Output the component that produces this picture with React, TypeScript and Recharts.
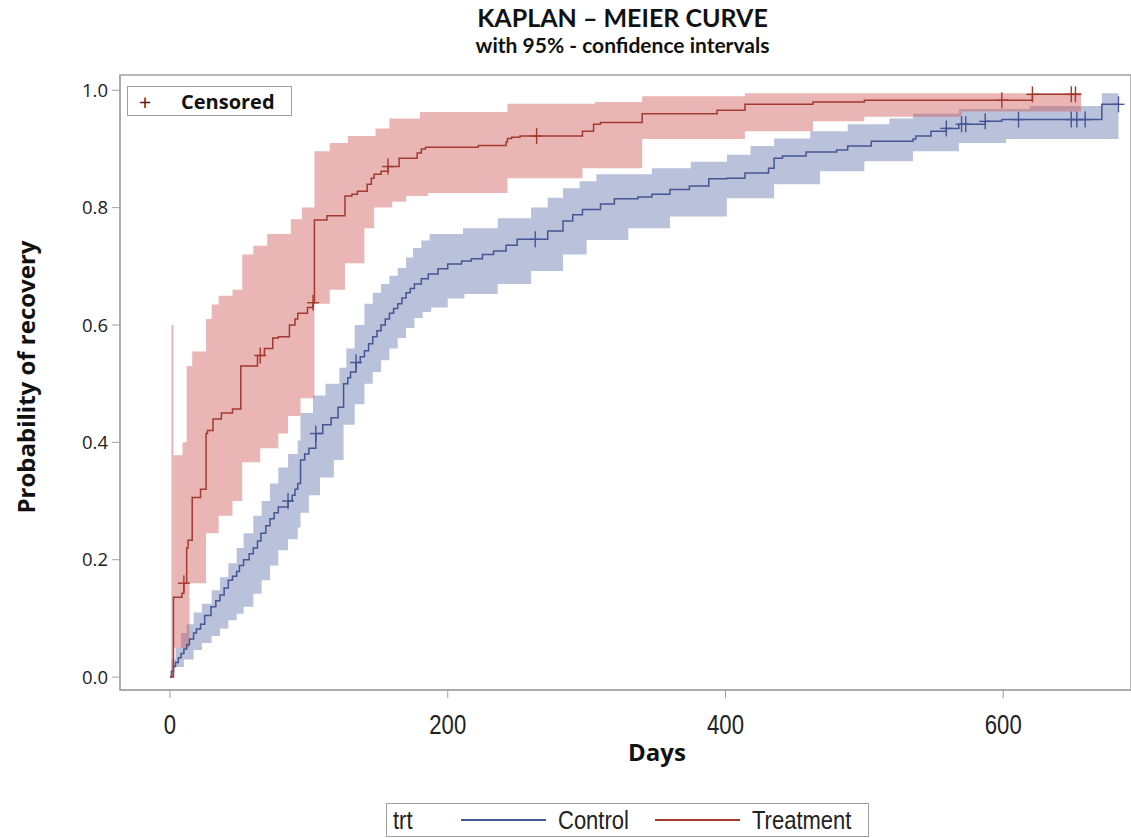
import React from "react";
import {
  ComposedChart,
  Area,
  Line,
  Scatter,
  XAxis,
  YAxis,
  ReferenceArea,
} from "recharts";

// Treatment: Kaplan-Meier estimate (days, probability of recovery)
const trtTime = [0, 2.5, 8.6, 10, 12, 13, 16, 22, 26, 27, 31, 37, 45, 51, 63, 68, 74, 78, 86, 90, 92, 99, 103, 104, 113, 126, 131, 135, 142, 145, 147, 152, 157, 165, 178, 181, 184, 222, 242, 243, 246, 252, 297, 305, 310, 340, 394, 414, 463, 500, 621, 656];
const trtSurv = [0, 0.136, 0.143, 0.16, 0.22, 0.233, 0.306, 0.32, 0.415, 0.42, 0.44, 0.45, 0.457, 0.53, 0.548, 0.56, 0.578, 0.58, 0.6, 0.61, 0.62, 0.63, 0.638, 0.779, 0.786, 0.82, 0.823, 0.828, 0.84, 0.85, 0.857, 0.862, 0.87, 0.884, 0.893, 0.9, 0.903, 0.906, 0.912, 0.918, 0.92, 0.922, 0.93, 0.942, 0.945, 0.96, 0.966, 0.976, 0.98, 0.983, 0.993, 0.993];
// Treatment: 95% confidence limits
const trtHiTime = [0, 1, 2.5, 9, 12, 16, 26, 30, 35, 45, 52, 60, 70, 87, 95, 104, 115, 128, 148, 158, 180, 243, 306, 340, 414, 656];
const trtHiVal = [0, 0.6, 0.378, 0.4, 0.53, 0.555, 0.61, 0.635, 0.65, 0.66, 0.72, 0.735, 0.755, 0.78, 0.8, 0.896, 0.91, 0.922, 0.935, 0.952, 0.963, 0.977, 0.98, 0.99, 0.995, 0.995];
const trtLoTime = [0, 2.5, 14, 26, 35, 45, 52, 65, 78, 85, 94, 104, 115, 126, 140, 147, 160, 170, 186, 243, 297, 340, 414, 463, 500, 570, 656];
const trtLoVal = [0, 0.05, 0.16, 0.245, 0.275, 0.3, 0.366, 0.39, 0.415, 0.445, 0.475, 0.636, 0.66, 0.705, 0.765, 0.8, 0.81, 0.82, 0.825, 0.85, 0.867, 0.917, 0.93, 0.947, 0.955, 0.964, 0.964];
const trtCensorTime = [10, 65, 103, 157, 264, 599, 621, 649, 652];
const trtCensorSurv = [0.16, 0.548, 0.638, 0.87, 0.922, 0.983, 0.993, 0.993, 0.993];

// Control: Kaplan-Meier estimate
const ctrlTime = [0, 1, 2.5, 4, 6, 8, 10, 12, 14, 17, 19, 22, 25, 29.5, 33, 36, 39, 42, 45, 48, 50, 53, 57, 60, 63, 65.5, 69, 72, 75, 78, 85, 88, 90, 92, 94, 97, 100, 105, 110, 116, 121, 125, 128, 130, 134, 137, 140, 143, 146, 149, 152, 155, 158, 161, 164, 167, 170, 173, 176, 181, 186, 193, 200, 210, 217, 225, 233, 242, 250, 272, 283, 290, 297, 310, 320, 337, 347, 360, 374, 388, 401, 414, 431, 435, 441, 458, 480, 488, 505, 535, 537, 548, 559, 568, 587, 599, 671, 683];
const ctrlSurv = [0, 0.01, 0.018, 0.025, 0.033, 0.04, 0.048, 0.055, 0.065, 0.075, 0.082, 0.09, 0.105, 0.12, 0.13, 0.14, 0.152, 0.165, 0.172, 0.18, 0.19, 0.2, 0.21, 0.22, 0.232, 0.245, 0.258, 0.27, 0.28, 0.29, 0.3, 0.31, 0.32, 0.33, 0.37, 0.38, 0.39, 0.415, 0.43, 0.442, 0.46, 0.5, 0.51, 0.52, 0.536, 0.546, 0.556, 0.568, 0.58, 0.59, 0.6, 0.61, 0.62, 0.628, 0.636, 0.646, 0.655, 0.662, 0.67, 0.679, 0.687, 0.696, 0.704, 0.709, 0.713, 0.72, 0.726, 0.736, 0.746, 0.76, 0.777, 0.788, 0.797, 0.806, 0.815, 0.818, 0.823, 0.831, 0.837, 0.849, 0.85, 0.859, 0.867, 0.884, 0.888, 0.895, 0.898, 0.905, 0.913, 0.917, 0.922, 0.93, 0.935, 0.942, 0.947, 0.95, 0.976, 0.976];
// Control: 95% confidence limits
const ctrlHiTime = [0, 1, 4, 8, 12, 17, 23, 30, 36, 42, 48, 53, 60, 66, 72, 78, 85, 92, 94, 103, 112, 122, 127, 133, 140, 146, 152, 158, 164, 170, 175, 181, 187, 211, 236, 260, 272, 283, 295, 307, 347, 375, 401, 418, 435, 461, 488, 518, 535, 568, 619, 671, 683];
const ctrlHiVal = [0, 0.03, 0.05, 0.075, 0.09, 0.11, 0.125, 0.148, 0.17, 0.194, 0.22, 0.245, 0.275, 0.3, 0.33, 0.357, 0.38, 0.403, 0.45, 0.48, 0.5, 0.527, 0.56, 0.6, 0.636, 0.655, 0.67, 0.684, 0.697, 0.715, 0.731, 0.744, 0.755, 0.765, 0.782, 0.8, 0.817, 0.833, 0.845, 0.857, 0.867, 0.878, 0.89, 0.905, 0.918, 0.93, 0.942, 0.952, 0.96, 0.968, 0.973, 0.995, 0.995];
const ctrlLoTime = [0, 3, 10, 17, 23, 30, 36, 42, 48, 53, 60, 66, 72, 78, 85, 92, 94, 100, 108, 118, 125, 133, 140, 146, 152, 158, 164, 170, 176, 182, 188, 200, 212, 236, 260, 283, 300, 330, 360, 401, 435, 468, 500, 535, 568, 602, 683];
const ctrlLoVal = [0, 0.017, 0.03, 0.046, 0.058, 0.07, 0.083, 0.097, 0.108, 0.12, 0.142, 0.165, 0.19, 0.216, 0.235, 0.255, 0.28, 0.31, 0.34, 0.37, 0.43, 0.465, 0.5, 0.52, 0.54, 0.56, 0.578, 0.595, 0.612, 0.622, 0.63, 0.645, 0.653, 0.67, 0.692, 0.72, 0.745, 0.765, 0.785, 0.816, 0.84, 0.862, 0.879, 0.896, 0.91, 0.917, 0.917];
const ctrlCensorTime = [85, 105, 134, 263, 559, 570, 573, 587, 611, 649, 653, 659, 683];
const ctrlCensorSurv = [0.3, 0.415, 0.536, 0.746, 0.935, 0.942, 0.942, 0.947, 0.95, 0.95, 0.95, 0.95, 0.976];

const xTicks = [0, 200, 400, 600];
const yTicks = [0, 0.2, 0.4, 0.6, 0.8, 1.0];

const RED = "#A23A2E";
const BLUE = "#445694";
const SANS = "'Open Sans', 'Noto Sans', sans-serif";
const NARROW = "'Liberation Sans', Arial, sans-serif";

// value of a step function at time t
function stepAt(ts: number[], vs: number[], t: number) {
  let v = vs[0];
  for (let i = 0; i < ts.length; i++) if (ts[i] <= t) v = vs[i];
  return v;
}

function buildBand(loT: number[], loV: number[], hiT: number[], hiV: number[]) {
  const ts = Array.from(new Set([...loT, ...hiT])).sort((a, b) => a - b);
  return ts.map((t) => ({ t, band: [stepAt(loT, loV, t), stepAt(hiT, hiV, t)] }));
}

const zip = (ts: number[], vs: number[]) => ts.map((t, i) => ({ t, s: vs[i] }));

const trtCurve = zip(trtTime, trtSurv);
const ctrlCurve = zip(ctrlTime, ctrlSurv);
const trtBand = buildBand(trtLoTime, trtLoVal, trtHiTime, trtHiVal);
const ctrlBand = buildBand(ctrlLoTime, ctrlLoVal, ctrlHiTime, ctrlHiVal);
const trtCensor = zip(trtCensorTime, trtCensorSurv);
const ctrlCensor = zip(ctrlCensorTime, ctrlCensorSurv);

const plus = (color: string) => (props: any) => {
  const { cx, cy } = props;
  return (
    <g stroke={color} strokeWidth={1.4}>
      <line x1={cx - 6} x2={cx + 6} y1={cy} y2={cy} />
      <line x1={cx} x2={cx} y1={cy - 8} y2={cy + 8} />
    </g>
  );
};

// narrow tick labels like the original
const NarrowTick = (props: any) => {
  const { x, y, payload } = props;
  return (
    <text
      x={0}
      y={0}
      transform={`translate(${x},${y + 34}) scale(0.82,1)`}
      textAnchor="middle"
      fontFamily={NARROW}
      fontSize={27}
      fill="#222"
    >
      {payload.value}
    </text>
  );
};

const narrowText = (txt: string, width: number) => (
  <span style={{ display: "inline-block", width, overflow: "visible", whiteSpace: "nowrap" }}>
    <span style={{ display: "inline-block", transform: "scaleX(0.88)", transformOrigin: "left center" }}>{txt}</span>
  </span>
);

export default function App() {
  return (
    <div style={{ position: "absolute", left: 0, top: 0, width: 1131, height: 838, background: "#fff", fontFamily: SANS }}>
      <div style={{ position: "absolute", left: 0, width: 1131, top: 2, textAlign: "center", paddingLeft: 114, boxSizing: "border-box" }}>
        <div style={{ fontFamily: "Lato, sans-serif", fontWeight: 700, fontSize: 25, lineHeight: "30px", color: "#111" }}>
          KAPLAN – MEIER CURVE
        </div>
        <div style={{ fontFamily: "Lato, sans-serif", fontWeight: 700, fontSize: 21, lineHeight: "24px", marginTop: 1, color: "#111" }}>
          with 95% - confidence intervals
        </div>
      </div>

      <div
        style={{
          position: "absolute",
          left: 25,
          top: 377,
          transform: "translate(-50%, -50%) rotate(-90deg)",
          whiteSpace: "nowrap",
          fontWeight: 700,
          fontSize: 24,
          color: "#111",
        }}
      >
        Probability of recovery
      </div>

      <div style={{ position: "absolute", left: 0, width: 1131, top: 735, textAlign: "center", paddingLeft: 183, boxSizing: "border-box", fontWeight: 700, fontSize: 24, color: "#111" }}>
        Days
      </div>

      <ComposedChart width={1131} height={838} margin={{ top: 75, right: 0, bottom: 108, left: 0 }}>
        <XAxis
          type="number"
          dataKey="t"
          domain={[-36, 692]}
          ticks={xTicks}
          allowDataOverflow
          height={40}
          tickSize={8}
          axisLine={{ stroke: "#A0A0A0" }}
          tickLine={{ stroke: "#A0A0A0" }}
          tick={<NarrowTick />}
        />
        <YAxis
          type="number"
          domain={[-0.022, 1.026]}
          ticks={yTicks}
          allowDataOverflow
          width={120}
          tickSize={8}
          tickMargin={4}
          tickFormatter={(v: number) => v.toFixed(1)}
          axisLine={{ stroke: "#A0A0A0" }}
          tickLine={{ stroke: "#A0A0A0" }}
          tick={{ fontFamily: SANS, fontSize: 18.5, fill: "#222" }}
        />
        <ReferenceArea x1={-36} x2={692} y1={-0.022} y2={1.026} fill="none" stroke="#A0A0A0" strokeWidth={1.5} ifOverflow="visible" />

        <Area data={ctrlBand} dataKey="band" type="stepAfter" fill="#6F7EB3" fillOpacity={0.48} stroke="none" isAnimationActive={false} />
        <Area data={trtBand} dataKey="band" type="stepAfter" fill="#D05B5B" fillOpacity={0.45} stroke="none" isAnimationActive={false} />

        <Line data={ctrlCurve} dataKey="s" type="stepAfter" stroke={BLUE} strokeWidth={1.5} dot={false} isAnimationActive={false} />
        <Line data={trtCurve} dataKey="s" type="stepAfter" stroke={RED} strokeWidth={1.5} dot={false} isAnimationActive={false} />

        <Scatter data={ctrlCensor} dataKey="s" shape={plus(BLUE)} isAnimationActive={false} />
        <Scatter data={trtCensor} dataKey="s" shape={plus(RED)} isAnimationActive={false} />
      </ComposedChart>

      {/* in-plot legend for censor marks */}
      <div
        style={{
          position: "absolute",
          left: 127,
          top: 86,
          width: 165,
          height: 30,
          border: "1px solid #A0A0A0",
          boxSizing: "border-box",
          background: "#fff",
          display: "flex",
          alignItems: "center",
        }}
      >
        <span style={{ marginLeft: 7, fontSize: 22, color: "#5a2020", width: 20, textAlign: "center", fontWeight: 400 }}>+</span>
        <span style={{ marginLeft: 26, fontSize: 20, fontWeight: 700, color: "#111" }}>Censored</span>
      </div>

      {/* group legend */}
      <div
        style={{
          position: "absolute",
          left: 386,
          top: 803,
          width: 483,
          height: 34,
          border: "1px solid #A0A0A0",
          boxSizing: "border-box",
          display: "flex",
          alignItems: "center",
          fontFamily: NARROW,
          fontSize: 25,
          color: "#222",
          background: "#fff",
        }}
      >
        <span style={{ marginLeft: 6 }}>{narrowText("trt", 20)}</span>
        <span style={{ display: "inline-block", width: 85, borderTop: `2px solid ${BLUE}`, marginLeft: 48 }} />
        <span style={{ marginLeft: 12 }}>{narrowText("Control", 74)}</span>
        <span style={{ display: "inline-block", width: 85, borderTop: `2px solid ${RED}`, marginLeft: 23 }} />
        <span style={{ marginLeft: 12 }}>{narrowText("Treatment", 105)}</span>
      </div>
    </div>
  );
}
